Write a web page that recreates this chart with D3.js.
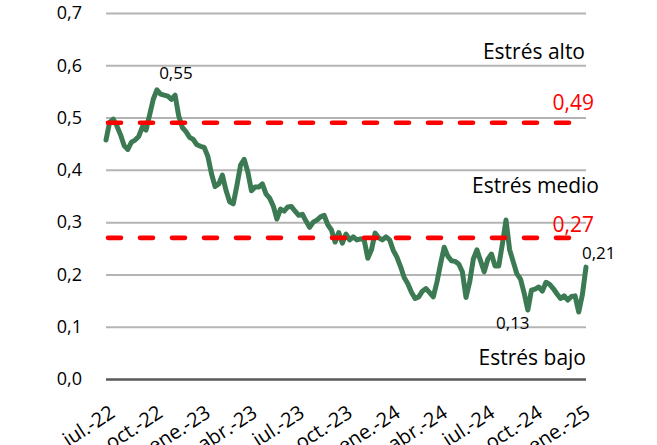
<!DOCTYPE html>
<html>
<head>
<meta charset="utf-8">
<script src="https://cdn.jsdelivr.net/npm/d3@7"></script>
<style>
  html, body { margin: 0; padding: 0; background: #ffffff; }
  text { font-family: "Open Sans", "DejaVu Sans", sans-serif; }
</style>
</head>
<body>
<script>
// ---- data ----
const startDate = "2022-07-01";   // first weekly observation
const values = [
  0.457,0.491,0.497,0.484,0.467,0.446,0.439,0.453,0.457,0.464,
  0.482,0.476,0.505,0.535,0.553,0.545,0.543,0.541,0.535,0.543,
  0.503,0.481,0.473,0.462,0.458,0.448,0.445,0.443,0.426,0.393,
  0.368,0.373,0.390,0.361,0.339,0.335,0.370,0.409,0.420,0.396,
  0.360,0.367,0.367,0.373,0.354,0.346,0.331,0.306,0.325,0.321,
  0.329,0.330,0.321,0.313,0.315,0.302,0.290,0.300,0.304,0.310,
  0.313,0.295,0.285,0.262,0.280,0.260,0.277,0.266,0.272,0.266,
  0.268,0.266,0.231,0.247,0.279,0.270,0.266,0.272,0.266,0.246,
  0.233,0.215,0.194,0.182,0.166,0.154,0.157,0.168,0.173,0.165,
  0.157,0.185,0.220,0.252,0.235,0.226,0.225,0.220,0.205,0.156,
  0.185,0.229,0.247,0.226,0.205,0.229,0.239,0.216,0.216,0.258,
  0.304,0.247,0.224,0.201,0.191,0.164,0.132,0.170,0.172,0.176,
  0.168,0.185,0.181,0.173,0.163,0.154,0.159,0.151,0.158,0.159,
  0.128,0.161,0.214
];
const xTickDates = ["2022-07-01","2022-10-01","2023-01-01","2023-04-01","2023-07-01","2023-10-01",
                    "2024-01-01","2024-04-01","2024-07-01","2024-10-01","2025-01-01"];
const xTickLabels = ["jul.-22","oct.-22","ene.-23","abr.-23","jul.-23","oct.-23",
                     "ene.-24","abr.-24","jul.-24","oct.-24","ene.-25"];
const yTicks = [0, 0.1, 0.2, 0.3, 0.4, 0.5, 0.6, 0.7];
const thresholds = [0.49, 0.27];
const thresholdLabels = ["0,49", "0,27"];
const zoneLabels = ["Estrés alto", "Estrés medio", "Estrés bajo"];
const pointLabelIdx = [14, 116, 132];
const pointLabelText = ["0,55", "0,13", "0,21"];

// ---- build ----
const parse = d3.utcParse("%Y-%m-%d");
const start = parse(startDate);
const series = values.map((v, i) => ({ date: d3.utcDay.offset(start, 7 * i), v }));

const W = 657, H = 445;
const svg = d3.select("body").append("svg").attr("width", W).attr("height", H);

const x = d3.scaleUtc().domain([series[0].date, series[series.length - 1].date]).range([106, 586]);
const y = d3.scaleLinear().domain([0, 0.7]).range([379, 13]);
const fmt = d => d3.format(".1f")(d).replace(".", ",");

// y axis + gridlines
const gy = svg.append("g").attr("transform", "translate(106,0)")
  .call(d3.axisLeft(y).tickValues(yTicks).tickSize(-480).tickPadding(24).tickFormat(fmt));
gy.select(".domain").remove();
gy.selectAll(".tick line")
  .attr("stroke", d => d === 0 ? "#595959" : "#b4b4b4")
  .attr("stroke-width", d => d === 0 ? 2.6 : 2);
gy.selectAll(".tick text")
  .attr("fill", "#000").style("font-size", "18px").style("font-family", "Open Sans");

// x axis labels
const gx = svg.append("g").attr("transform", "translate(0,379)")
  .call(d3.axisBottom(x).tickValues(xTickDates.map(parse)).tickSize(0)
        .tickFormat((d, i) => xTickLabels[i]));
gx.select(".domain").remove();
gx.selectAll(".tick text")
  .attr("fill", "#000").style("font-size", "20px").style("font-family", "Open Sans")
  .attr("text-anchor", "end")
  .attr("y", 0).attr("dy", "0.72em")
  .attr("transform", "translate(2,25) rotate(-33)");

// green line
svg.append("path").datum(series)
  .attr("fill", "none").attr("stroke", "#3b7a53").attr("stroke-width", 5)
  .attr("stroke-linejoin", "round").attr("stroke-linecap", "round")
  .attr("d", d3.line().x(d => x(d.date)).y(d => y(d.v)));

// threshold dashed lines
svg.selectAll(".thr").data(thresholds).enter().append("line")
  .attr("x1", 108).attr("x2", 578)
  .attr("y1", d => y(d)).attr("y2", d => y(d))
  .attr("stroke", "#ff0000").attr("stroke-width", 4.6)
  .attr("stroke-linecap", "round").attr("stroke-dasharray", "13,19");

const thrDy = [-12.5, -6];
svg.selectAll(".thrlab").data(thresholds).enter().append("text")
  .attr("x", 594).attr("y", (d, i) => y(d) + thrDy[i])
  .attr("text-anchor", "end").attr("fill", "#ff0000")
  .style("font-size", "21px")
  .text((d, i) => thresholdLabels[i]);

// zone labels
const zoneX = [585, 599, 586];
const zoneY = [59, 193, 365];
svg.selectAll(".zone").data(zoneLabels).enter().append("text")
  .attr("x", (d, i) => zoneX[i]).attr("y", (d, i) => zoneY[i])
  .attr("text-anchor", "end").attr("fill", "#000")
  .style("font-size", "21px")
  .text(d => d);

// point labels
const plDx = [19, -15, -4];
const plDy = [-11, 19, -8];
const plAnchor = ["middle", "middle", "start"];
svg.selectAll(".pl").data(pointLabelIdx).enter().append("text")
  .attr("x", (d, i) => x(series[d].date) + plDx[i])
  .attr("y", (d, i) => y(series[d].v) + plDy[i])
  .attr("text-anchor", (d, i) => plAnchor[i]).attr("fill", "#000")
  .style("font-size", "17px")
  .text((d, i) => pointLabelText[i]);
</script>
</body>
</html>
